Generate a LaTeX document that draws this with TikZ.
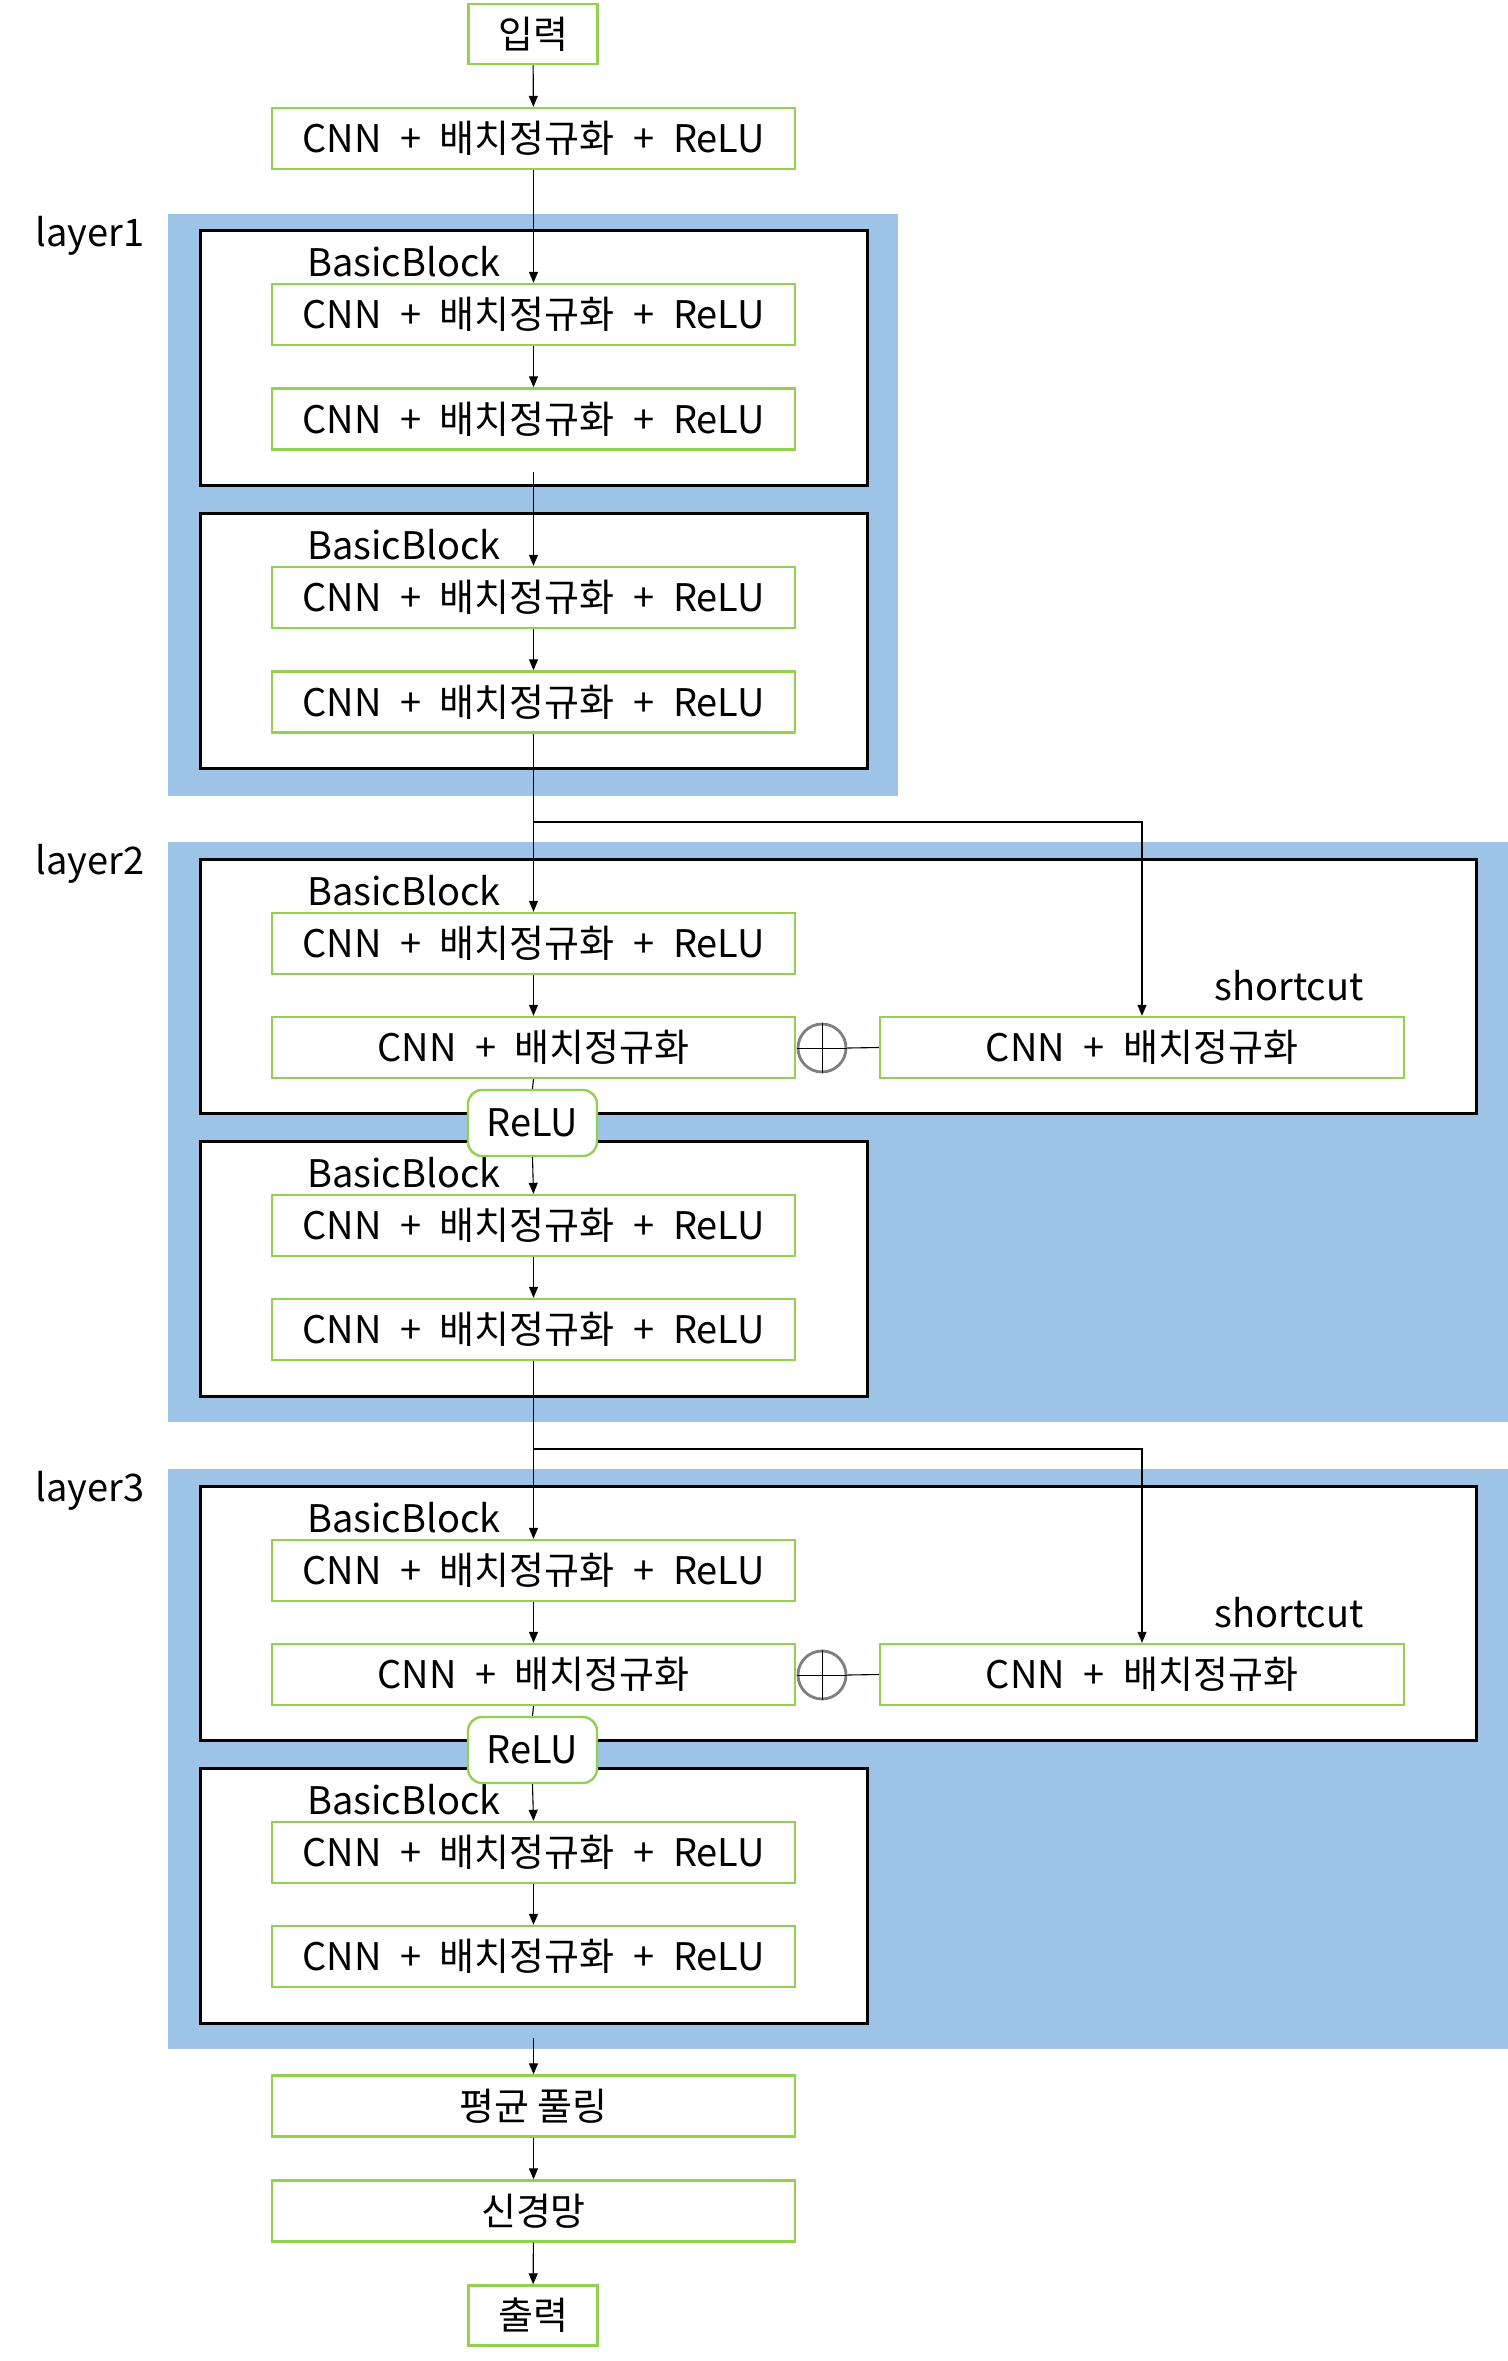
\documentclass[tikz,border=0pt]{standalone}
\usepackage{fontspec}
\setmainfont{Noto Sans CJK KR}
\usetikzlibrary{fit,arrows.meta}
\definecolor{lblue}{HTML}{9DC3E6}
\definecolor{lgreen}{HTML}{92D050}
\definecolor{cgray}{HTML}{7F7F7F}
\newcommand\diagfs{\fontsize{19pt}{22pt}\selectfont}
\newcommand\pls{\hspace{0.49em}+\hspace{0.49em}}
\tikzset{
  layerbg/.style={fill=lblue, draw=none, inner sep=0pt},
  blockframe/.style={draw=black, line width=1.5pt, fill=white, inner sep=0pt},
  opbox/.style={draw=lgreen, line width=1.2pt, fill=white, minimum width=261.5pt,
    minimum height=30.5pt, inner sep=0pt, font=\diagfs},
  smallbox/.style={opbox, minimum width=64.5pt, minimum height=30pt},
  relubox/.style={opbox, minimum width=64.5pt, minimum height=33pt, rounded corners=7pt},
  plusnode/.style={circle, draw=cgray, line width=1.4pt, fill=white, minimum size=24pt, inner sep=0pt},
  lbl/.style={font=\diagfs, inner sep=0pt, anchor=base west},
  conn/.style={draw=black, line width=0.55pt},
  arr/.style={conn, -{Triangle[length=5.5pt,width=4.5pt]}},
  crossln/.style={draw=black, line width=0.5pt}
}
\newcommand\plainblock[2]{% #1 name, #2 y offset
  \node[blockframe, fit={(200,{230+#2}) (867,{485+#2})}] (f#1) {};
  \node[lbl] (bb#1) at (307,{276+#2}) {BasicBlock};
  \node[opbox] (b#1a) at (533.5,{314.5+#2}) {CNN\pls 배치정규화\pls ReLU};
  \node[opbox] (b#1b) at (533.5,{419+#2}) {CNN\pls 배치정규화\pls ReLU};
}
\newcommand\shortlayer[3]{% #1 name, #2 y offset, #3 label
  \node[layerbg, fit={(168,{842+#2}) (1508,{1422+#2})}] (L#1) {};
  \node[lbl] (lab#1) at (35,{874+#2}) {#3};
  \node[blockframe, fit={(200,{859+#2}) (1476,{1113+#2})}] (f#1a) {};
  \node[lbl] (bb#1a) at (307,{905+#2}) {BasicBlock};
  \node[opbox] (b#1aa) at (533.5,{943.5+#2}) {CNN\pls 배치정규화\pls ReLU};
  \node[opbox] (b#1ab) at (533.5,{1047.5+#2}) {CNN\pls 배치정규화};
  \node[opbox, minimum width=262pt] (sc#1) at (1142,{1047.5+#2}) {CNN\pls 배치정규화};
  \node[lbl] (sl#1) at (1214,{1000+#2}) {shortcut};
  \node[plusnode] (p#1) at (822,{1048+#2}) {};
  \path[crossln] (p#1.west) -- (p#1.east) (p#1.north) -- (p#1.south);
  \path[conn] (p#1.east) -- (sc#1.west);
  \node[blockframe, fit={(200,{1141+#2}) (867,{1396+#2})}] (f#1b) {};
  \node[lbl] (bb#1b) at (307,{1187+#2}) {BasicBlock};
  \node[opbox] (b#1ba) at (533.5,{1225.5+#2}) {CNN\pls 배치정규화\pls ReLU};
  \node[opbox] (b#1bb) at (533.5,{1329.5+#2}) {CNN\pls 배치정규화\pls ReLU};
  \node[relubox] (r#1) at (532.5,{1123+#2}) {ReLU};
  \coordinate (j#1) at (533.5,{822+#2});
  \path[arr] (b#1aa) -- (b#1ab);
  \path[conn] (b#1ab.south) -- (r#1.north);
  \path[arr] (r#1.south) -- (b#1ba.north);
  \path[arr] (b#1ba) -- (b#1bb);
  \path[arr] (j#1) -| (sc#1.north);
}
\begin{document}
\begin{tikzpicture}[x=0.5pt,y=-0.5pt]
\useasboundingbox (0,0) rectangle (1508,2361);
% input
\node[smallbox] (in) at (533,34) {입력};
\node[opbox] (c0) at (533.5,138.5) {CNN\pls 배치정규화\pls ReLU};
% layer1
\node[layerbg, fit={(168,214) (898,796)}] (L1) {};
\node[lbl] (lab1) at (35,246) {layer1};
\plainblock{11}{0}
\plainblock{12}{283}
\coordinate (s12) at (533.5,472);
% layer2 and layer3
\shortlayer{2}{0}{layer2}
\shortlayer{3}{627}{layer3}
% head
\coordinate (s4) at (533.5,2038);
\node[opbox] (avg) at (533.5,2106) {평균 풀링};
\node[opbox] (nn) at (533.5,2211) {신경망};
\node[smallbox] (out) at (533,2315.5) {출력};
% connectors
\path[arr] (in) -- (c0);
\path[arr] (c0) -- (b11a);
\path[arr] (b11a) -- (b11b);
\path[arr] (s12) -- (b12a.north);
\path[arr] (b12a) -- (b12b);
\path[arr] (b12b) -- (b2aa);
\path[arr] (b2bb) -- (b3aa);
\path[arr] (s4) -- (avg.north);
\path[arr] (avg) -- (nn);
\path[arr] (nn) -- (out);
\end{tikzpicture}
\end{document}
